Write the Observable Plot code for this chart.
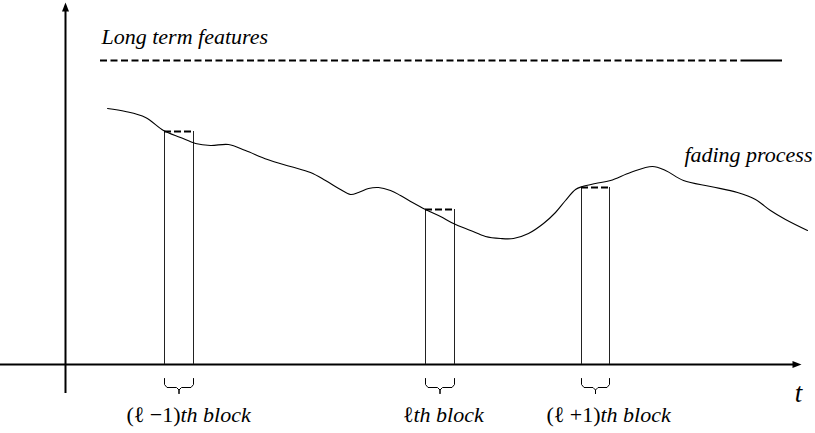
<!DOCTYPE html>
<html><head><meta charset="utf-8">
<script src="https://cdn.jsdelivr.net/npm/d3@7"></script>
<script src="https://cdn.jsdelivr.net/npm/@observablehq/plot@0.6"></script>
<style>body{margin:0;background:#fff}</style>
</head><body><div id="chart"></div>
<script>
// fading process samples (t, amplitude)
const curveT = [42,60,80,98,115,130,145,163,180,202,225,245,260,275,285,293,303,313,325,335,347,360,375,388,405,420,435,448,463,478,490,500,510,517,530,545,565,587,600,618,645,672,690,705,720,742];
const curveA = [256,253,247,234,227,221,219,220,214,205,198,192,184,175,170,172,176,177,174,169,162,155,148,141,134,128,126,126,131,141,152,164,175,178,181,184,192,198,194,184,178,172,165,154,145,134];

// blocks
const blockPrefix = ["(\u2113 \u22121)", "\u2113", "(\u2113 +1)"];
const blockSuffix = ["th block", "th block", "th block"];
const blockStart = [99, 360, 516];
const blockEnd = [128, 389, 544];
const blockTop = [233, 155, 177];
const labelSplit = [115, 348, 535];

// long-term features level
const longTermLevel = 304;
const longTermStart = 35, longTermDashEnd = 682, longTermEnd = 717;

// axes extents
const tAxisMin = -65, tAxisMax = 736;
const aAxisMin = -29, aAxisMax = 362;

// texts
const titleLong = "Long term features";
const titleFading = "fading process";
const tLabel = "t";

const curve = curveT.map((t, i) => ({t, a: curveA[i]}));
const blocks = blockStart.map((s, i) => ({i, start: s, end: blockEnd[i], top: blockTop[i],
  prefix: blockPrefix[i], suffix: blockSuffix[i], split: labelSplit[i]}));
const sides = blocks.flatMap(b => [{t: b.start, top: b.top}, {t: b.end, top: b.top}]);

// brace halves derived from block edges
const braceTop = -14, braceBend = -20, braceFlat = -23, braceJoin = -25.5, braceTip = -29;
const braces = blocks.flatMap(b => {
  const L = b.start, R = b.end, M = (L + R) / 2;
  const left = [[L, braceTop], [L, braceBend], [L + 2.5, braceFlat], [M - 2.5, braceFlat], [M, braceJoin], [M, braceTip]];
  const right = [[R, braceTop], [R, braceBend], [R - 2.5, braceFlat], [M + 2.5, braceFlat], [M, braceJoin], [M, braceTip]];
  return [...left.map(([t, a]) => ({t, a, k: b.i + "L"})), ...right.map(([t, a]) => ({t, a, k: b.i + "R"}))];
});

const arrowHead = {draw(ctx) { ctx.moveTo(0, 0); ctx.lineTo(3.5, 9); ctx.lineTo(-3.5, 9); ctx.closePath(); }};
const font = "Liberation Serif, DejaVu Serif, Noto Serif, Times, serif";

const chart = Plot.plot({
  width: 815, height: 433,
  marginLeft: 0, marginRight: 0, marginTop: 0, marginBottom: 0,
  x: {domain: [-65, 750], axis: null},
  y: {domain: [-69, 364], axis: null},
  marks: [
    // axes
    Plot.ruleY([0], {x1: tAxisMin, x2: tAxisMax - 4, stroke: "black", strokeWidth: 2}),
    Plot.ruleX([0], {y1: aAxisMin, y2: aAxisMax - 4, stroke: "black", strokeWidth: 2}),
    Plot.dot([{t: 0, a: aAxisMax}], {x: "t", y: "a", symbol: arrowHead, r: 5, fill: "black", stroke: "none"}),
    Plot.dot([{t: tAxisMax, a: 0}], {x: "t", y: "a", symbol: arrowHead, r: 5, fill: "black", stroke: "none", rotate: 90}),
    // long term features line
    Plot.ruleY([longTermLevel], {x1: longTermStart, x2: longTermDashEnd, stroke: "black", strokeWidth: 2, strokeDasharray: "7,3.5"}),
    Plot.ruleY([longTermLevel], {x1: longTermDashEnd, x2: longTermEnd, stroke: "black", strokeWidth: 2}),
    // block sides
    Plot.ruleX(sides, {x: "t", y1: 0, y2: "top", stroke: "#222", strokeWidth: 1}),
    // fading curve
    Plot.line(curve, {x: "t", y: "a", curve: "catmull-rom", stroke: "black", strokeWidth: 1.1}),
    // block dashed tops
    Plot.ruleY(blocks, {y: "top", x1: "start", x2: "end", stroke: "black", strokeWidth: 2, strokeDasharray: "7,3"}),
    // braces
    Plot.line(braces, {x: "t", y: "a", z: "k", stroke: "black", strokeWidth: 1, curve: "linear"}),
    // texts
    Plot.text([titleLong], {x: longTermStart + 1, y: 321, text: d => d, textAnchor: "start", lineAnchor: "bottom", fontFamily: font, fontStyle: "italic", fontSize: 22, fill: "black"}),
    Plot.text([titleFading], {x: 747, y: 203, text: d => d, textAnchor: "end", lineAnchor: "bottom", fontFamily: font, fontStyle: "italic", fontSize: 22, fill: "black"}),
    Plot.text([tLabel], {x: 733, y: -37, text: d => d, textAnchor: "middle", lineAnchor: "bottom", fontFamily: font, fontStyle: "italic", fontSize: 27, fill: "black"}),
    Plot.text(blocks, {x: "split", y: -57, text: "prefix", textAnchor: "end", lineAnchor: "bottom", fontFamily: font, fontSize: 22, fill: "black"}),
    Plot.text(blocks, {x: "split", y: -57, text: "suffix", textAnchor: "start", lineAnchor: "bottom", fontFamily: font, fontStyle: "italic", fontSize: 22, fill: "black"})
  ]
});
document.getElementById("chart").appendChild(chart);
</script>
</body></html>
